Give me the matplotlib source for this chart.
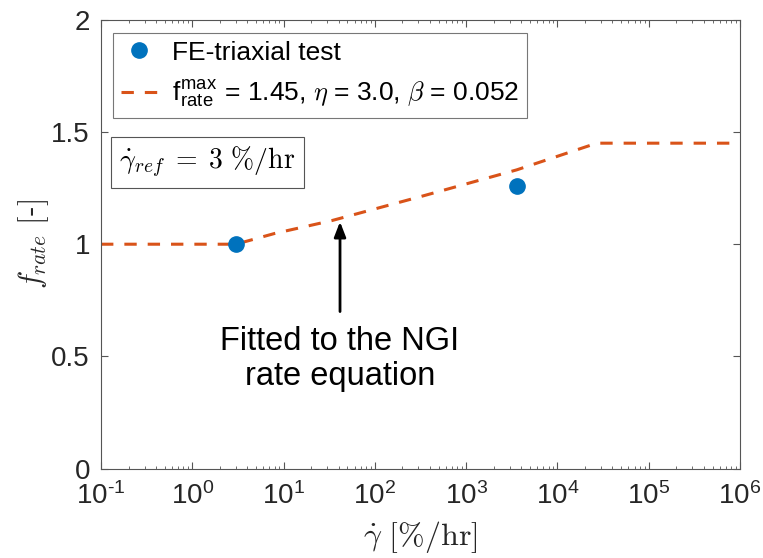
import numpy as np
import matplotlib
matplotlib.use("Agg")
import matplotlib.pyplot as plt

plt.rcParams['font.family'] = ['Liberation Sans', 'DejaVu Sans']
plt.rcParams['mathtext.fontset'] = 'cm'
plt.rcParams['lines.scale_dashes'] = False

# FE triaxial test results
test_rate = [3.0, 3570.0]
test_frate = [1.0, 1.259]

# fitted NGI rate curve
fit_rate = [0.1, 3.0, 8.0, 33.6, 336.0, 3570.0, 21600.0, 27000.0, 1.0e6]
fit_frate = [1.0, 1.0, 1.048, 1.105, 1.215, 1.331, 1.437, 1.45, 1.45]

xticks = [1e-1, 1e0, 1e1, 1e2, 1e3, 1e4, 1e5, 1e6]
xexps = ['\u20101', '0', '1', '2', '3', '4', '5', '6']
yticks = [0, 0.5, 1, 1.5, 2]
yticklabels = ['0', '0.5', '1', '1.5', '2']

blue = '#0072BD'
orange = '#D95319'
grey = '#262626'

fig = plt.figure(figsize=(7.63, 5.58), dpi=100)
ax = fig.add_axes([0.1324, 0.160, 0.8375, 0.8047])

ax.plot(test_rate, test_frate, 'o', color=blue, markersize=11,
        label='FE-triaxial test', zorder=3)
ax.plot(fit_rate, fit_frate, color=orange, lw=2.2, dashes=(8.9, 7.9),
        dash_capstyle='butt',
        label=r'$\mathdefault{f}_{\mathdefault{rate}}^{\mathdefault{max}}$ = 1.45, $\eta$ = 3.0, $\beta$ = 0.052')

ax.set_xscale('log')
ax.set_xlim(1e-1, 1e6)
ax.set_ylim(0, 2)
ax.set_xticks(xticks)
ax.set_xticklabels([r'$\mathdefault{10^{%s}}$' % e for e in xexps])
ax.set_yticks(yticks)
ax.set_yticklabels(yticklabels)

for s in ax.spines.values():
    s.set_color('#555555')
    s.set_linewidth(0.8)
ax.tick_params(which='both', direction='in', top=True, right=True,
               colors='#555555', labelcolor=grey, labelsize=20)
ax.tick_params(which='major', length=5, width=0.8, pad=8)
ax.tick_params(axis='x', which='major', pad=10)
ax.tick_params(which='minor', length=2.5, width=0.6)
ax.xaxis.set_minor_locator(matplotlib.ticker.LogLocator(base=10, subs=np.arange(2, 10), numticks=20))
ax.xaxis.set_minor_formatter(matplotlib.ticker.NullFormatter())

ax.set_xlabel(r'$\dot{\gamma}\ [\%/\mathrm{hr}]$', fontsize=23, color=grey, labelpad=6)
ax.set_ylabel(r'$f_{rate}\ [$-$]$', fontsize=22, color=grey, labelpad=0)

leg = ax.legend(loc='upper left', bbox_to_anchor=(0.0188, 0.971), borderaxespad=0,
                fontsize=19, frameon=True, fancybox=False, handlelength=1.35,
                handletextpad=0.57, borderpad=0.3, labelspacing=0.55)
leg.get_frame().set_edgecolor('#555555')
leg.get_frame().set_linewidth(0.8)
for t in leg.get_texts():
    t.set_color('k')

ax.text(0.0203 + 0.008, 0.682, r'$\dot{\gamma}_{ref}\;=\;3\ \%/\mathrm{hr}$',
        transform=ax.transAxes, fontsize=20, va='center', ha='left',
        bbox=dict(boxstyle='square,pad=0.3', fc='white', ec='#555555', lw=0.8))

ax.annotate('', xy=(41.5, 1.10), xytext=(41.5, 0.70),
            arrowprops=dict(arrowstyle='-|>,head_length=0.9,head_width=0.35',
                            color='k', lw=2, shrinkA=0, shrinkB=0))
ax.text(41.5, 0.49, 'Fitted to the NGI\nrate equation', ha='center', va='center',
        fontsize=23.5, linespacing=1.15, color='k')

fig.savefig('out.png', dpi=100)
